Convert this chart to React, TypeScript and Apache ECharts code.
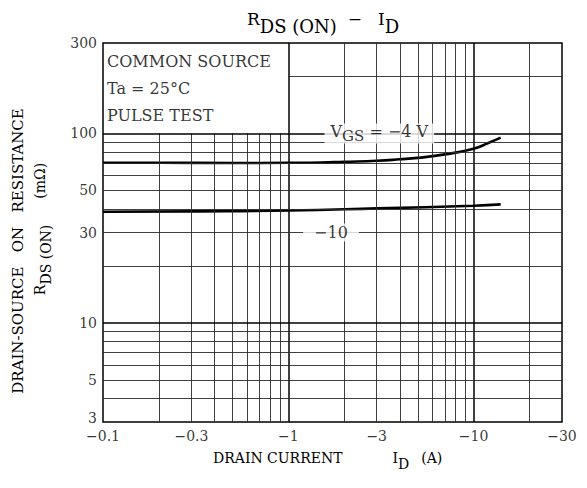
import React, { useEffect, useRef } from "react";
import * as echarts from "echarts";

const FONT = "DejaVu Serif";

const xMin = 0.1;
const xMax = 30;
const yMin = 3;
const yMax = 300;

const xTickValues = [0.1, 0.3, 1, 3, 10, 30];
const xTickLabels = ["\u22120.1", "\u22120.3", "\u22121", "\u22123", "\u221210", "\u221230"];
const yTickValues = [3, 5, 10, 30, 50, 100, 300];
const yTickLabels = ["3", "5", "10", "30", "50", "100", "300"];

const xMinorGrid = [0.2, 0.3, 0.4, 0.5, 0.6, 0.7, 0.8, 0.9, 2, 3, 4, 5, 6, 7, 8, 9, 20];
const xMajorGrid = [1, 10];
const yMinorGrid = [4, 5, 6, 7, 8, 9, 20, 30, 40, 50, 60, 70, 80, 90];
const yMajorGrid = [10, 100];
const yUpperGrid = [200];
const boxCornerX = 1; // the text box covers 0.1..1 above 100
const boxCornerY = 100;

const vgs4Current = [0.1, 0.2, 0.5, 1, 1.5, 2, 3, 4, 5, 7, 10, 12, 14];
const vgs4Resistance = [70, 70, 69.8, 70, 70.2, 70.8, 71.7, 73, 74.3, 77.5, 83, 89, 95];
const vgs10Current = [0.1, 0.3, 1, 3, 10, 14];
const vgs10Resistance = [38.6, 38.8, 39.2, 40.2, 41.5, 42.2];

const noteLines = ["COMMON SOURCE", "Ta = 25\u00b0C", "PULSE TEST"];

function zip(a: number[], b: number[]) {
  return a.map((v, i) => [v, b[i]]);
}

export default function App() {
  const ref = useRef<HTMLDivElement>(null);
  useEffect(() => {
    const chart = echarts.init(ref.current!, undefined, { renderer: "svg" });

    const minorStyle = { color: "#2a2a2a", width: 0.9, type: "solid" };
    const majorStyle = { color: "#000", width: 1.5, type: "solid" };
    const gridLines: any[] = [];
    xMinorGrid.forEach((x) => {
      const top = x < boxCornerX ? boxCornerY : yMax;
      gridLines.push([{ coord: [x, yMin], lineStyle: minorStyle }, { coord: [x, top] }]);
    });
    xMajorGrid.forEach((x) => {
      gridLines.push([{ coord: [x, yMin], lineStyle: majorStyle }, { coord: [x, yMax] }]);
    });
    yMinorGrid.forEach((y) => {
      gridLines.push([{ coord: [xMin, y], lineStyle: minorStyle }, { coord: [xMax, y] }]);
    });
    yMajorGrid.forEach((y) => {
      gridLines.push([{ coord: [xMin, y], lineStyle: majorStyle }, { coord: [xMax, y] }]);
    });
    yUpperGrid.forEach((y) => {
      gridLines.push([{ coord: [boxCornerX, y], lineStyle: minorStyle }, { coord: [xMax, y] }]);
    });

    const tok = (size: number, pad = 0, width?: number) => {
      const s: any = {
        fontFamily: FONT,
        fontSize: size,
        lineHeight: 20,
        verticalAlign: "top",
        fill: "#000",
        color: "#000",
      };
      if (pad) s.padding = [pad, 0, 0, 0];
      if (width !== undefined) s.width = width;
      return s;
    };

    const textStyle = (text: string, rich: any, align = "center", vAlign = "middle") => ({
      text,
      rich,
      align,
      verticalAlign: vAlign,
      textAlign: align,
      textVerticalAlign: vAlign,
      fill: "#000",
    });

    chart.setOption({
      animation: false,
      backgroundColor: "#fff",
      grid: {
        left: 103,
        top: 43,
        right: 25,
        bottom: 66,
        show: true,
        borderColor: "#000",
        borderWidth: 1.5,
        backgroundColor: "transparent",
      },
      xAxis: {
        type: "log",
        logBase: 10,
        min: xMin,
        max: xMax,
        axisLabel: { show: false },
        axisTick: { show: false },
        splitLine: { show: false },
        axisLine: { show: false },
      },
      yAxis: {
        type: "log",
        logBase: 10,
        min: yMin,
        max: yMax,
        axisLabel: { show: false },
        axisTick: { show: false },
        splitLine: { show: false },
        axisLine: { show: false },
      },
      graphic: [
        {
          type: "text",
          x: 247,
          y: 10,
          style: textStyle(
            "{a|R}{b|DS (ON)}{a|  \u2212   I}{b|D}",
            { a: tok(17), b: tok(18, 7) },
            "left",
            "top"
          ),
        },
        {
          type: "text",
          x: 213,
          y: 451,
          style: textStyle(
            "{a|DRAIN CURRENT}{g| }{a|I}{b|D}{h| }{a|(A)}",
            { a: tok(14), b: tok(14, 6), g: tok(14, 0, 50), h: tok(14, 0, 12) },
            "left",
            "top"
          ),
        },
        {
          type: "text",
          x: 20,
          y: 251,
          rotation: Math.PI / 2,
          style: textStyle(
            "{a|DRAIN-SOURCE   ON   RESISTANCE}",
            { a: tok(15) },
            "center",
            "middle"
          ),
        },
        {
          type: "text",
          x: 33,
          y: 229,
          rotation: Math.PI / 2,
          style: textStyle(
            "{a|R}{b|DS (ON)}{g| }{a|(m\u03a9)}",
            { a: tok(14), b: tok(14, 6), g: tok(14, 0, 26) },
            "center",
            "top"
          ),
        },
      ],
      series: [
        {
          type: "scatter",
          silent: true,
          clip: false,
          symbolSize: 0,
          z: 1,
          data: xTickValues.map((v) => [v, yMin]),
          label: {
            show: true,
            position: "bottom",
            distance: 8,
            formatter: (p: any) => xTickLabels[p.dataIndex],
            fontFamily: FONT,
            fontSize: 14,
            lineHeight: 12,
            color: "#000",
          },
          markLine: {
            silent: true,
            symbol: ["none", "none"],
            label: { show: false },
            animation: false,
            data: gridLines,
          },
        },
        {
          type: "scatter",
          silent: true,
          clip: false,
          symbolSize: 0,
          z: 1,
          data: yTickValues.map((v) =>
            v === yMin ? { value: [xMin, v], label: { offset: [0, -4] } } : [xMin, v]
          ),
          label: {
            show: true,
            position: "left",
            distance: 6,
            formatter: (p: any) => yTickLabels[p.dataIndex],
            fontFamily: FONT,
            fontSize: 14,
            lineHeight: 12,
            color: "#000",
          },
        },
        {
          type: "line",
          name: "VGS = -4 V",
          smooth: true,
          symbol: "none",
          z: 3,
          data: zip(vgs4Current, vgs4Resistance),
          lineStyle: { color: "#000", width: 2.6 },
        },
        {
          type: "line",
          name: "VGS = -10 V",
          smooth: true,
          symbol: "none",
          z: 3,
          data: zip(vgs10Current, vgs10Resistance),
          lineStyle: { color: "#000", width: 2.6 },
        },
        {
          type: "scatter",
          silent: true,
          clip: false,
          symbolSize: 0,
          z: 5,
          data: [[3.1, 100]],
          label: {
            show: true,
            position: "inside",
            formatter: "{a|V}{b|GS}{a| = \u22124 V}",
            backgroundColor: "#fff",
            padding: [0, 6, 0, 6],
            rich: { a: tok(16), b: tok(15, 5) },
          },
        },
        {
          type: "scatter",
          silent: true,
          clip: false,
          symbolSize: 0,
          z: 5,
          data: [[1.7, 30]],
          label: {
            show: true,
            position: "inside",
            formatter: "\u221210",
            backgroundColor: "#fff",
            padding: [1, 11, 1, 11],
            fontFamily: FONT,
            fontSize: 16,
            color: "#000",
          },
        },
        {
          type: "scatter",
          silent: true,
          clip: false,
          symbolSize: 0,
          z: 5,
          data: [[xMin, yMax]],
          label: {
            show: true,
            position: [4, 5],
            align: "left",
            verticalAlign: "top",
            formatter: noteLines.join("\n"),
            fontFamily: FONT,
            fontSize: 16,
            lineHeight: 27,
            color: "#000",
          },
        },
      ],
    });
    return () => chart.dispose();
  }, []);
  return (
    <div
      ref={ref}
      style={{ position: "fixed", left: 0, top: 0, width: 587, height: 488, background: "#fff" }}
    />
  );
}
